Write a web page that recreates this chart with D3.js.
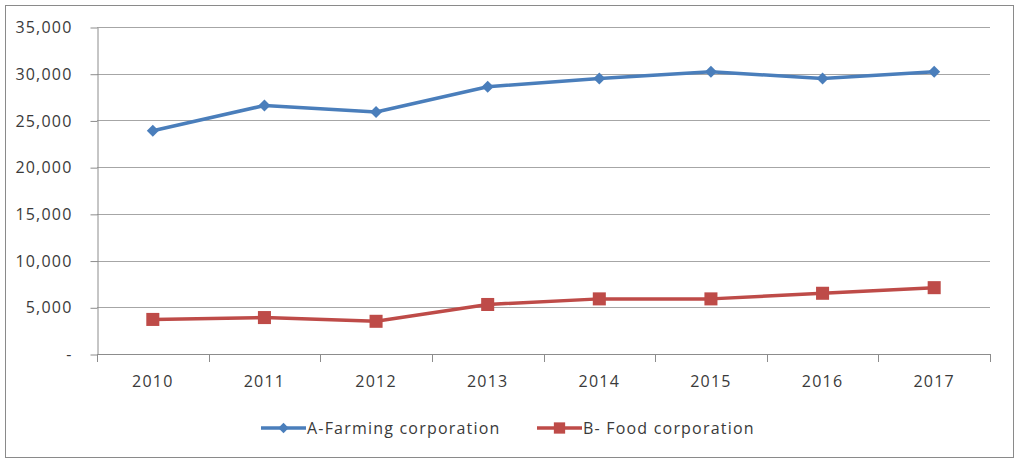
<!DOCTYPE html>
<html>
<head>
<meta charset="utf-8">
<script src="https://cdn.jsdelivr.net/npm/d3@7"></script>
<style>
  body { margin: 0; background: #fff; }
  text { font-family: "Open Sans", sans-serif; fill: #3a3a3a; letter-spacing: 1.2px; }
</style>
</head>
<body>
<svg id="drawing_region"></svg>
<script>
const years = ['2010', '2011', '2012', '2013', '2014', '2015', '2016', '2017'];
const farming = [23900, 26600, 25900, 28600, 29500, 30200, 29500, 30200];
const food = [3700, 3900, 3500, 5300, 5900, 5900, 6500, 7100];
const yticks = [0, 5000, 10000, 15000, 20000, 25000, 30000, 35000];
const seriesNames = ['A-Farming corporation', 'B- Food corporation'];

const config = {
    width: 1019,
    height: 462,
    margin: {top: 27, right: 29, bottom: 108, left: 97}
};

const svg = d3.select('#drawing_region')
    .attr('width', config.width)
    .attr('height', config.height);

// outer frame
svg.append('rect')
    .attr('x', 5.5).attr('y', 5.5)
    .attr('width', 1008).attr('height', 452)
    .attr('fill', 'none')
    .attr('stroke', '#8a8a8a')
    .attr('stroke-width', 1);

const inner_width = config.width - config.margin.left - config.margin.right;
const inner_height = config.height - config.margin.top - config.margin.bottom;

const chart = svg.append('g')
    .attr('transform', `translate(${config.margin.left}, ${config.margin.top})`);

const xscale = d3.scaleBand()
    .domain(years)
    .range([0, inner_width]);

const yscale = d3.scaleLinear()
    .domain([0, 35000])
    .range([inner_height, 0]);

// gridlines
chart.append('g')
    .selectAll('line')
    .data(yticks.slice(1))
    .join('line')
    .attr('x1', 0).attr('x2', inner_width)
    .attr('y1', d => Math.round(yscale(d)) + 0.5)
    .attr('y2', d => Math.round(yscale(d)) + 0.5)
    .attr('stroke', '#a6a6a6');

// y axis
const yaxis = d3.axisLeft(yscale)
    .tickValues(yticks)
    .tickSize(7)
    .tickPadding(18)
    .tickSizeOuter(0)
    .tickFormat(d => d === 0 ? '-' : d3.format(',')(d));

const yaxis_group = chart.append('g')
    .attr('transform', 'translate(0.5, 0.5)')
    .call(yaxis);
yaxis_group.select('.domain').attr('stroke', '#8c8c8c');
yaxis_group.selectAll('.tick line').attr('stroke', '#8c8c8c');
yaxis_group.selectAll('.tick text')
    .attr('font-size', 16)
    .attr('font-family', '"Open Sans", sans-serif')
    .attr('fill', '#3a3a3a');

// x axis with ticks between categories
const xaxis_group = chart.append('g')
    .attr('transform', `translate(0, ${inner_height})`);
xaxis_group.append('line')
    .attr('x1', 0).attr('x2', inner_width)
    .attr('y1', 0.5).attr('y2', 0.5)
    .attr('stroke', '#8c8c8c');
xaxis_group.selectAll('.xtick')
    .data(years.concat(['end']))
    .join('line')
    .attr('class', 'xtick')
    .attr('x1', (d, i) => Math.round(i * xscale.step()) + 0.5)
    .attr('x2', (d, i) => Math.round(i * xscale.step()) + 0.5)
    .attr('y1', 0).attr('y2', 8)
    .attr('stroke', '#8c8c8c');
xaxis_group.selectAll('.xlabel')
    .data(years)
    .join('text')
    .attr('class', 'xlabel')
    .attr('x', d => xscale(d) + xscale.bandwidth() / 2)
    .attr('y', 33)
    .attr('text-anchor', 'middle')
    .attr('font-size', 16)
    .text(d => d);

const line = d3.line()
    .x((d, i) => xscale(years[i]) + xscale.bandwidth() / 2)
    .y(d => yscale(d));

const series = [
    {name: seriesNames[0], values: farming, color: '#4a7ebb', shape: d3.symbolSquare, size: 72, rotate: 45},
    {name: seriesNames[1], values: food, color: '#be4b48', shape: d3.symbolSquare, size: 170, rotate: 0}
];

series.forEach(s => {
    chart.append('path')
        .datum(s.values)
        .attr('d', line)
        .attr('fill', 'none')
        .attr('stroke', s.color)
        .attr('stroke-width', 3.5)
        .attr('stroke-linejoin', 'round');
    chart.append('g')
        .selectAll('path')
        .data(s.values)
        .join('path')
        .attr('transform', (d, i) => `translate(${xscale(years[i]) + xscale.bandwidth() / 2}, ${yscale(d)}) rotate(${s.rotate})`)
        .attr('d', d3.symbol().type(s.shape).size(s.size))
        .attr('fill', s.color);
});

// legend
const legendX = [261, 537];
const legend = svg.append('g')
    .attr('transform', 'translate(0, 428)');
series.forEach((s, i) => {
    const g = legend.append('g').attr('transform', `translate(${legendX[i]}, 0)`);
    g.append('line')
        .attr('x1', 0).attr('x2', 45)
        .attr('y1', 0).attr('y2', 0)
        .attr('stroke', s.color)
        .attr('stroke-width', 3.5);
    g.append('path')
        .attr('transform', `translate(22.5, 0) rotate(${s.rotate})`)
        .attr('d', d3.symbol().type(s.shape).size(s.size * 0.75))
        .attr('fill', s.color);
    g.append('text')
        .attr('x', 46)
        .attr('y', 6)
        .attr('font-size', 16)
        .text(s.name);
});
</script>
</body>
</html>
